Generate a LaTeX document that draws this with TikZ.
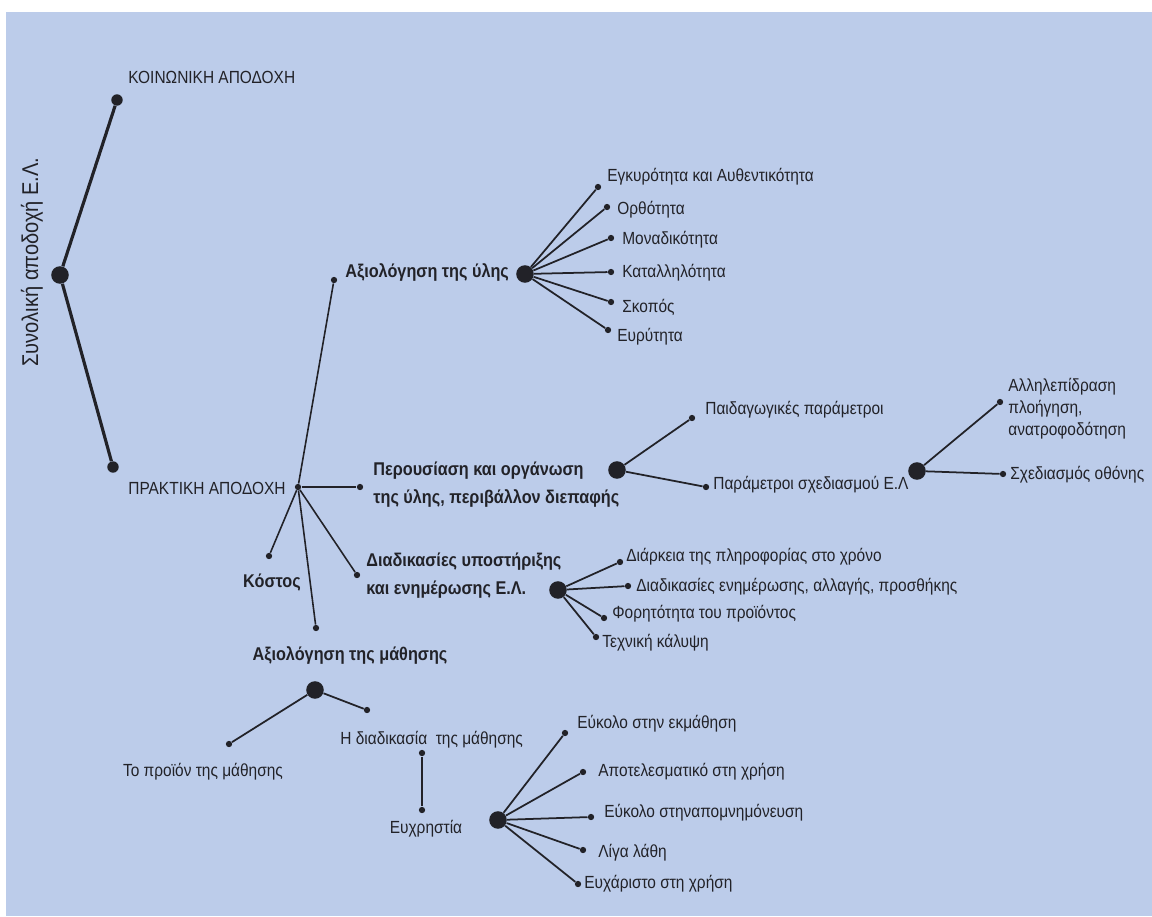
\documentclass[tikz,border=0pt]{standalone}
\usepackage{fontspec}
\setmainfont{Liberation Sans}[FakeStretch=0.88]
\usetikzlibrary{positioning}
\definecolor{bgblue}{HTML}{BCCCEA}
\definecolor{ink}{HTML}{222228}
\tikzset{
  dot/.style={circle,fill=ink,inner sep=0pt,minimum size=3.6pt},
  middot/.style={circle,fill=ink,inner sep=0pt,minimum size=6.5pt},
  hub/.style={circle,fill=ink,inner sep=0pt,minimum size=10pt},
  lbl/.style={anchor=west,inner sep=0pt,text=ink,font=\fontsize{10}{12.5}\selectfont},
  blbl/.style={lbl,font=\fontsize{10.5}{16}\selectfont\bfseries},
  trunk/.style={draw=ink,line width=1.8pt},
  branch/.style={draw=ink,line width=0.9pt},
  twig/.style={draw=ink,line width=1pt}
}
\begin{document}
\begin{tikzpicture}[x=0.02cm,y=-0.02cm]
\fill[white] (0,0) rectangle (1152,916);
\fill[bgblue] (6,12) rectangle (1152,916);
% root
\node[rotate=90,text=ink,font=\fontsize{13}{15}\selectfont] (title) at (32,262) {Συνολική αποδοχή Ε.Λ.};
\node[hub] (root) at (60,275) {};
\node[middot] (koin) at (117,100) {};
\node[middot] (prak) at (113,467) {};
\draw[trunk] (root) -- (koin);
\draw[trunk] (root) -- (prak);
\node[lbl] (koinT) at (128,77) {ΚΟΙΝΩΝΙΚΗ ΑΠΟΔΟΧΗ};
\node[lbl] (prakT) at (128,488) {ΠΡΑΚΤΙΚΗ ΑΠΟΔΟΧΗ};
% practical acceptance
\node[dot] (pk) at (298,487) {};
\node[dot] (yliD) at (334,280) {};
\node[dot] (parD) at (360,487) {};
\node[dot] (kosD) at (269,556) {};
\node[dot] (diaD) at (357,575) {};
\node[dot] (mathD) at (316,628) {};
\draw[branch] (pk) -- (yliD);
\draw[branch] (pk) -- (parD);
\draw[branch] (pk) -- (kosD);
\draw[branch] (pk) -- (diaD);
\draw[branch] (pk) -- (mathD);
% material evaluation
\node[blbl] (yliT) at (345,272) {Αξιολόγηση της ύλης};
\node[hub] (yli) at (525,274) {};
\node[dot] (y1) at (598,187) {};
\node[dot] (y2) at (607,207) {};
\node[dot] (y3) at (611,238) {};
\node[dot] (y4) at (611,272) {};
\node[dot] (y5) at (611,302) {};
\node[dot] (y6) at (608,330) {};
\draw[twig] (yli) -- (y1);
\draw[twig] (yli) -- (y2);
\draw[twig] (yli) -- (y3);
\draw[twig] (yli) -- (y4);
\draw[twig] (yli) -- (y5);
\draw[twig] (yli) -- (y6);
\node[lbl] at (607,177) {Εγκυρότητα και Αυθεντικότητα};
\node[lbl] at (617,210) {Ορθότητα};
\node[lbl] at (622,240) {Μοναδικότητα};
\node[lbl] at (622,273) {Καταλληλότητα};
\node[lbl] at (622,307) {Σκοπός};
\node[lbl] at (617,337) {Ευρύτητα};
% presentation
\node[blbl,align=left] (parT) at (373,485) {Περουσίαση και οργάνωση\\της ύλης, περιβάλλον διεπαφής};
\node[hub] (par) at (617,470) {};
\node[dot] (p1) at (692,418) {};
\node[dot] (p2) at (706,487) {};
\draw[twig] (par) -- (p1);
\draw[twig] (par) -- (p2);
\node[lbl] at (705,410) {Παιδαγωγικές παράμετροι};
\node[lbl] (p2T) at (713,485) {Παράμετροι σχεδιασμού Ε.Λ};
\node[hub] (sxe) at (917,471) {};
\node[dot] (s1) at (1000,402) {};
\node[dot] (s2) at (1003,474) {};
\draw[twig] (sxe) -- (s1);
\draw[twig] (sxe) -- (s2);
\node[lbl,align=left] at (1008,409) {Αλληλεπίδραση\\πλοήγηση,\\ανατροφοδότηση};
\node[lbl] at (1010,475) {Σχεδιασμός οθόνης};
% cost and support
\node[blbl,anchor=center] (kosT) at (272,583) {Κόστος};
\node[blbl,align=left] (diaT) at (366,576) {Διαδικασίες υποστήριξης\\και ενημέρωσης Ε.Λ.};
\node[hub] (dia) at (558,590) {};
\node[dot] (d1) at (620,562) {};
\node[dot] (d2) at (628,586) {};
\node[dot] (d3) at (604,618) {};
\node[dot] (d4) at (596,637) {};
\draw[twig] (dia) -- (d1);
\draw[twig] (dia) -- (d2);
\draw[twig] (dia) -- (d3);
\draw[twig] (dia) -- (d4);
\node[lbl] at (626,557) {Διάρκεια της πληροφορίας στο χρόνο};
\node[lbl] at (636,587) {Διαδικασίες ενημέρωσης, αλλαγής, προσθήκης};
\node[lbl] at (612,614) {Φορητότητα του προϊόντος};
\node[lbl] at (602,643) {Τεχνική κάλυψη};
% learning evaluation
\node[blbl,anchor=center] (mathT) at (350,655) {Αξιολόγηση της μάθησης};
\node[hub] (math) at (315,690) {};
\node[dot] (m1) at (229,744) {};
\node[dot] (m2) at (367,710) {};
\draw[twig] (math) -- (m1);
\draw[twig] (math) -- (m2);
\node[lbl,anchor=center] at (203,772) {Το προϊόν της μάθησης};
\node[lbl] at (340,740) {Η διαδικασία\ \ της μάθησης};
\node[dot] (e1) at (422,753) {};
\node[dot] (e2) at (422,810) {};
\draw[twig] (e1) -- (e2);
\node[lbl,anchor=center] (euxT) at (426,829) {Ευχρηστία};
\node[hub] (eux) at (498,820) {};
\node[dot] (u1) at (565,733) {};
\node[dot] (u2) at (583,772) {};
\node[dot] (u3) at (591,817) {};
\node[dot] (u4) at (583,850) {};
\node[dot] (u5) at (578,884) {};
\draw[twig] (eux) -- (u1);
\draw[twig] (eux) -- (u2);
\draw[twig] (eux) -- (u3);
\draw[twig] (eux) -- (u4);
\draw[twig] (eux) -- (u5);
\node[lbl] at (577,724) {Εύκολο στην εκμάθηση};
\node[lbl] at (598,772) {Αποτελεσματικό στη χρήση};
\node[lbl] at (604,813) {Εύκολο στηναπομνημόνευση};
\node[lbl] at (598,853) {Λίγα λάθη};
\node[lbl] at (584,884) {Ευχάριστο στη χρήση};
\end{tikzpicture}
\end{document}
